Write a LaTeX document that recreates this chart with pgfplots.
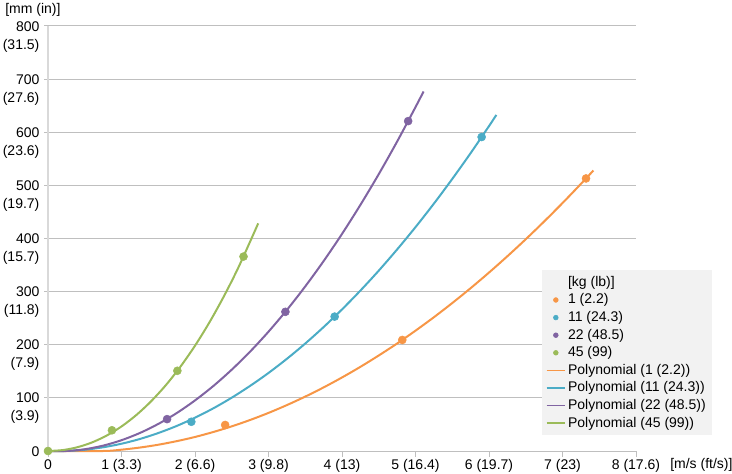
\documentclass[border=0pt]{standalone}
\usepackage{fontspec}
\setmainfont{Liberation Sans}
\usepackage{pgfplots}
\pgfplotsset{compat=1.18}
\definecolor{cOr}{HTML}{F79646}
\definecolor{cBl}{HTML}{4BACC6}
\definecolor{cPu}{HTML}{8064A2}
\definecolor{cGr}{HTML}{9BBB59}
\definecolor{cGrid}{HTML}{BFBFBF}
\definecolor{cYax}{HTML}{D9D9D9}
\newcommand\yl[2]{\begin{tabular}[t]{@{}r@{}}#1\\(#2)\end{tabular}}
\begin{document}
\fontsize{10.5}{13.5}\selectfont
\begin{tikzpicture}
\begin{axis}[
  name=ax,
  scale only axis,
  width=441pt, height=318.75pt,
  xmin=0, xmax=8, ymin=0, ymax=800,
  clip=false,
  axis lines*=left,
  axis line style={-},
  x axis line style={draw=cGrid, line width=0.75pt},
  y axis line style={draw=cYax, line width=1.5pt},
  tick align=outside,
  xtick={0,1,2,3,4,5,6,7,8},
  xticklabels={0,1 (3.3),2 (6.6),3 (9.8),4 (13),5 (16.4),6 (19.7),7 (23),8 (17.6)},
  ytick={0,100,200,300,400,500,600,700,800},
  yticklabels={0,{\yl{100}{3.9}},{\yl{200}{7.9}},{\yl{300}{11.8}},{\yl{400}{15.7}},{\yl{500}{19.7}},{\yl{600}{23.6}},{\yl{700}{27.6}},{\yl{800}{31.5}}},
  yticklabel style={anchor=base east, yshift=-3.8pt, inner sep=2pt},
  xticklabel style={inner sep=2pt},
  xtick style={draw=cGrid, line width=0.75pt, /pgfplots/major tick length=4.5pt},
  ytick style={draw=cGrid, line width=0.75pt, /pgfplots/major tick length=3pt},
  ymajorgrids,
  major grid style={draw=cGrid, line width=0.75pt},
  legend cell align=left,
  legend style={at={(rel axis cs:1.1293,0.4259)}, anchor=north east,
    fill=black!5, draw=none, inner xsep=3pt, inner ysep=2.5pt,
    row sep=0pt, column sep=0pt,
    nodes={inner xsep=1.5pt, inner ysep=1.5pt, text height=8pt, text depth=2.2pt}},
  legend image code/.code={\draw[mark repeat=2,mark phase=2,#1] plot coordinates {(0pt,0pt) (7pt,0pt) (14pt,0pt)};},
]
% trend lines
\addplot[forget plot, color=cOr, line width=1.5pt, smooth] coordinates {
(0,0) (0.75,0) (1.0,2.5) (1.25,6.5) (1.5,11.8) (1.75,18.5) (2.0,26.4) (2.25,35.8) (2.5,46.4) (2.75,58.4) (3.0,71.7) (3.25,86.4) (3.5,102.4) (3.75,119.7) (4.0,138.4) (4.25,158.4) (4.5,179.8) (4.75,202.4) (5.0,226.5) (5.25,251.8) (5.5,278.5) (5.75,306.5) (6.0,335.9) (6.25,366.6) (6.5,398.6) (6.75,432.0) (7.0,466.7) (7.25,502.7) (7.42,528)};
\addplot[forget plot, color=cBl, line width=1.5pt, smooth] coordinates {
(0,0) (0.25,0.1) (0.5,2.4) (0.75,7.0) (1.0,13.7) (1.25,22.6) (1.5,33.8) (1.75,47.1) (2.0,62.7) (2.25,80.4) (2.5,100.4) (2.75,122.6) (3.0,146.9) (3.25,173.5) (3.5,202.3) (3.75,233.3) (4.0,266.5) (4.25,301.9) (4.5,339.5) (4.75,379.4) (5.0,421.4) (5.25,465.6) (5.5,512.1) (5.75,560.7) (6.0,611.6) (6.1,632.6)};
\addplot[forget plot, color=cPu, line width=1.5pt, smooth] coordinates {
(0,0) (0.25,0) (0.5,3.3) (0.75,10.1) (1.0,20.3) (1.25,33.9) (1.5,50.9) (1.75,71.3) (2.0,95.2) (2.25,122.4) (2.5,153.1) (2.75,187.1) (3.0,224.6) (3.25,265.5) (3.5,309.8) (3.75,357.5) (4.0,408.6) (4.25,463.2) (4.5,521.1) (4.75,582.5) (5.0,647.3) (5.11,676.8)};
\addplot[forget plot, color=cGr, line width=1.5pt, smooth] coordinates {
(0,0) (0.2,1.7) (0.4,7.1) (0.6,16.2) (0.8,29.2) (1.0,46.2) (1.2,67.5) (1.4,93.2) (1.6,123.4) (1.8,158.4) (2.0,198.2) (2.2,243.0) (2.4,293.0) (2.6,348.3) (2.86,428.5)};
% data points
\addplot[forget plot, only marks, mark=*, mark size=3pt, color=cOr] coordinates {(2.41,49) (4.82,209) (7.32,513)};
\addplot[forget plot, only marks, mark=*, mark size=3pt, color=cBl] coordinates {(1.95,55) (3.90,253) (5.90,591)};
\addplot[forget plot, only marks, mark=*, mark size=3pt, color=cPu] coordinates {(1.62,60) (3.23,262) (4.90,621)};
\addplot[forget plot, only marks, mark=*, mark size=3pt, color=cGr] coordinates {(0,0) (0.87,39) (1.76,151) (2.66,366)};
% legend
\addlegendimage{empty legend}
\addlegendentry{[kg (lb)]}
\addlegendimage{only marks, mark=*, mark size=1.8pt, color=cOr}
\addlegendentry{1 (2.2)}
\addlegendimage{only marks, mark=*, mark size=1.8pt, color=cBl}
\addlegendentry{11 (24.3)}
\addlegendimage{only marks, mark=*, mark size=1.8pt, color=cPu}
\addlegendentry{22 (48.5)}
\addlegendimage{only marks, mark=*, mark size=1.8pt, color=cGr}
\addlegendentry{45 (99)}
\addlegendimage{no marks, color=cOr, line width=1.3pt}
\addlegendentry{Polynomial (1 (2.2))}
\addlegendimage{no marks, color=cBl, line width=1.3pt}
\addlegendentry{Polynomial (11 (24.3))}
\addlegendimage{no marks, color=cPu, line width=1.3pt}
\addlegendentry{Polynomial (22 (48.5))}
\addlegendimage{no marks, color=cGr, line width=1.3pt}
\addlegendentry{Polynomial (45 (99))}
\node[anchor=base west, inner sep=0pt] at ([xshift=-32.25pt, yshift=9pt]rel axis cs:0,1) {[mm (in)]};
\node[anchor=base west, inner sep=0pt] at ([xshift=25.5pt, yshift=-12.75pt]rel axis cs:1,0) {[m/s (ft/s)]};
\end{axis}
\pgfresetboundingbox
\path[use as bounding box] ([xshift=-36pt,yshift=-16.5pt]ax.south west) rectangle ([xshift=72pt,yshift=19.5pt]ax.north east);
\end{tikzpicture}
\end{document}
